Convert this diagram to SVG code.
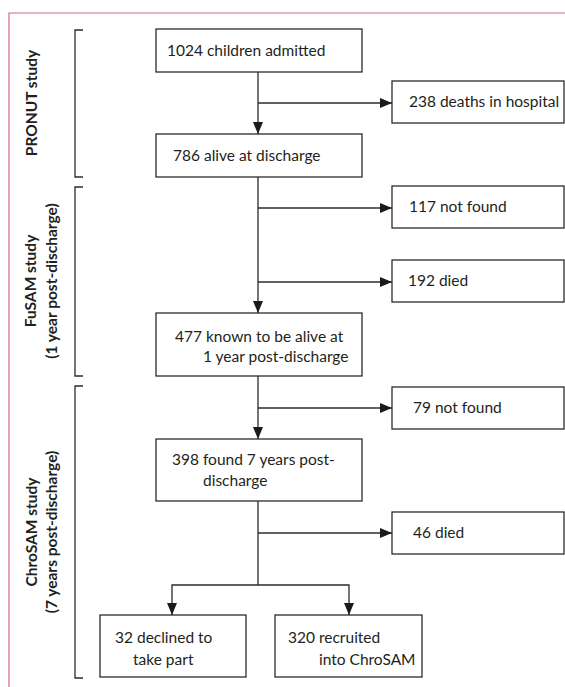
<svg xmlns="http://www.w3.org/2000/svg" width="565" height="687" viewBox="0 0 565 687">
<defs>
<style>
.frame{fill:none;stroke:#d06a86;stroke-width:1.2}
.box{fill:#fff;stroke:#2b2b2b;stroke-width:1.3}
.ln{fill:none;stroke:#2b2b2b;stroke-width:1.3}
.t{font-family:Lato,"Noto Sans",sans-serif;font-size:15.5px;fill:#231f20}
.lb{font-family:Lato,"Noto Sans",sans-serif;font-size:15.5px;font-weight:bold;fill:#231f20}
</style>
<marker id="ah" viewBox="0 0 12 10" refX="12" refY="5" markerWidth="12" markerHeight="10" markerUnits="userSpaceOnUse" orient="auto">
<path d="M0,0 L12,5 L0,10 Z" fill="#1a1a1a"/>
</marker>
</defs>
<rect width="565" height="687" fill="#fff"/>
<path class="frame" d="M565,13 H9 V687"/>

<g id="brackets">
<path class="ln" d="M83,30 H75 V177 H83"/>
<path class="ln" d="M83,187 H75 V376 H83"/>
<path class="ln" d="M83,386 H75 V678 H83"/>
</g>
<g id="label-pronut">
<text class="lb" transform="translate(37,103) rotate(-90)" text-anchor="middle">PRONUT study</text>
</g>
<g id="label-fusam">
<text class="lb" transform="translate(36,281) rotate(-90)" text-anchor="middle">FuSAM study</text>
<text class="lb" transform="translate(57,281) rotate(-90)" text-anchor="middle">(1 year post-discharge)</text>
</g>
<g id="label-chrosam">
<text class="lb" transform="translate(37,532) rotate(-90)" text-anchor="middle">ChroSAM study</text>
<text class="lb" transform="translate(57,532) rotate(-90)" text-anchor="middle">(7 years post-discharge)</text>
</g>

<g id="connectors">
<path class="ln" d="M258,72 V134" marker-end="url(#ah)"/>
<path class="ln" d="M258,103 H392" marker-end="url(#ah)"/>
<path class="ln" d="M258,177 V313" marker-end="url(#ah)"/>
<path class="ln" d="M258,208 H392" marker-end="url(#ah)"/>
<path class="ln" d="M258,282 H392" marker-end="url(#ah)"/>
<path class="ln" d="M258,376 V439" marker-end="url(#ah)"/>
<path class="ln" d="M258,408 H392" marker-end="url(#ah)"/>
<path class="ln" d="M258,501 V585"/>
<path class="ln" d="M258,533 H392" marker-end="url(#ah)"/>
<path class="ln" d="M258,585 H172 V615" marker-end="url(#ah)"/>
<path class="ln" d="M258,585 H349 V615" marker-end="url(#ah)"/>
</g>

<g id="n1024">
<rect class="box" x="156" y="29" width="206" height="43"/>
<text class="t" x="167" y="56">1024 children admitted</text>
</g>
<g id="n238">
<rect class="box" x="392" y="81" width="172" height="42"/>
<text class="t" x="409" y="107">238 deaths in hospital</text>
</g>
<g id="n786">
<rect class="box" x="156" y="134" width="206" height="43"/>
<text class="t" x="173" y="161">786 alive at discharge</text>
</g>
<g id="n117">
<rect class="box" x="392" y="186" width="172" height="42"/>
<text class="t" x="409" y="212">117 not found</text>
</g>
<g id="n192">
<rect class="box" x="392" y="260" width="172" height="42"/>
<text class="t" x="408" y="286">192 died</text>
</g>
<g id="n477">
<rect class="box" x="156" y="313" width="206" height="63"/>
<text class="t" x="175" y="342">477 known to be alive at</text>
<text class="t" x="203" y="362">1 year post-discharge</text>
</g>
<g id="n79">
<rect class="box" x="392" y="387" width="172" height="42"/>
<text class="t" x="413" y="413">79 not found</text>
</g>
<g id="n398">
<rect class="box" x="156" y="439" width="206" height="62"/>
<text class="t" x="172" y="465">398 found 7 years post-</text>
<text class="t" x="203" y="486">discharge</text>
</g>
<g id="n46">
<rect class="box" x="392" y="512" width="172" height="42"/>
<text class="t" x="413" y="538">46 died</text>
</g>
<g id="n32">
<rect class="box" x="100" y="615" width="146" height="62"/>
<text class="t" x="115" y="643">32 declined to</text>
<text class="t" x="133" y="665">take part</text>
</g>
<g id="n320">
<rect class="box" x="275" y="615" width="147" height="62"/>
<text class="t" x="288" y="643">320 recruited</text>
<text class="t" x="319" y="665">into ChroSAM</text>
</g>
</svg>
